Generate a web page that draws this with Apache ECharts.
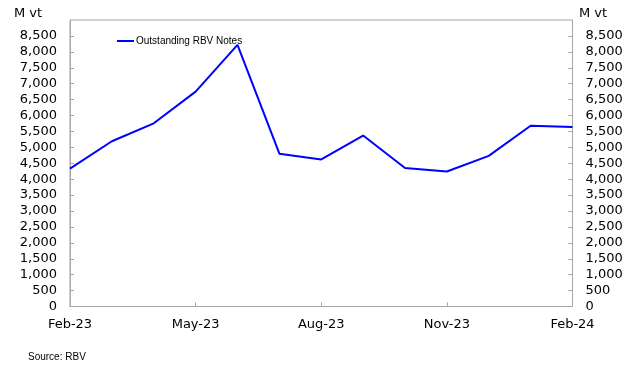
<!DOCTYPE html>
<html>
<head>
<meta charset="utf-8">
<script src="https://cdn.jsdelivr.net/npm/echarts@6/dist/echarts.min.js"></script>
<style>
  html, body { margin: 0; padding: 0; background: #fff; }
  #chart { width: 635px; height: 365px; }
</style>
</head>
<body>
<div id="chart"></div>
<script>
// Monthly outstanding RBV notes, millions of vatu
const months = ['Feb-23', 'Mar-23', 'Apr-23', 'May-23', 'Jun-23', 'Jul-23', 'Aug-23',
                'Sep-23', 'Oct-23', 'Nov-23', 'Dec-23', 'Jan-24', 'Feb-24'];
const outstandingNotes = [4330, 5190, 5755, 6750, 8220, 4800, 4620,
                          5370, 4350, 4240, 4730, 5680, 5640];
const seriesName = 'Outstanding RBV Notes';
const unitLabel = 'M vt';
const sourceText = 'Source: RBV';

const axisGrey = '#a6a6a6';
const tickFont = { fontFamily: 'DejaVu Sans', fontSize: 13, color: '#000' };

const chart = echarts.init(document.getElementById('chart'), null, { renderer: 'canvas' });

function valueAxis(position) {
  return {
    type: 'value',
    position: position,
    min: 0,
    max: 9000,
    interval: 500,
    axisLine: { show: true, lineStyle: { color: axisGrey, width: 1 } },
    axisTick: { show: true, inside: true, length: 4, lineStyle: { color: axisGrey } },
    splitLine: { show: false },
    axisLabel: Object.assign({
      margin: 13,
      showMaxLabel: false,
      formatter: v => v.toLocaleString('en-US')
    }, tickFont)
  };
}

chart.setOption({
  animation: false,
  backgroundColor: '#fff',
  grid: {
    left: 70, right: 62.5, top: 20, bottom: 58.5,
    show: true, borderColor: axisGrey, borderWidth: 1, backgroundColor: 'transparent'
  },
  legend: {
    data: [seriesName],
    left: 112, top: 31,
    icon: 'rect', itemWidth: 17, itemHeight: 2, itemGap: 10,
    textStyle: { fontFamily: 'Liberation Sans', fontSize: 10, color: '#000', padding: [0, 0, 0, -3] }
  },
  xAxis: {
    type: 'category',
    data: months,
    boundaryGap: false,
    axisLine: { show: true, lineStyle: { color: axisGrey, width: 1 } },
    axisTick: { show: true, inside: true, length: 4, interval: 2, lineStyle: { color: axisGrey } },
    axisLabel: Object.assign({ interval: 2, margin: 12 }, tickFont),
    splitLine: { show: false }
  },
  yAxis: [valueAxis('left'), valueAxis('right')],
  series: [{
    name: seriesName,
    type: 'line',
    data: outstandingNotes,
    symbol: 'none',
    lineStyle: { color: '#0000ff', width: 2 },
    itemStyle: { color: '#0000ff' }
  }],
  graphic: [
    { type: 'text', left: 14, top: 7, style: { text: unitLabel, font: '13px "DejaVu Sans"', fill: '#000' } },
    { type: 'text', left: 579, top: 7, style: { text: unitLabel, font: '13px "DejaVu Sans"', fill: '#000' } },
    { type: 'text', left: 28, top: 352, style: { text: sourceText, font: '10px "Liberation Sans"', fill: '#000' } }
  ]
});
</script>
</body>
</html>
